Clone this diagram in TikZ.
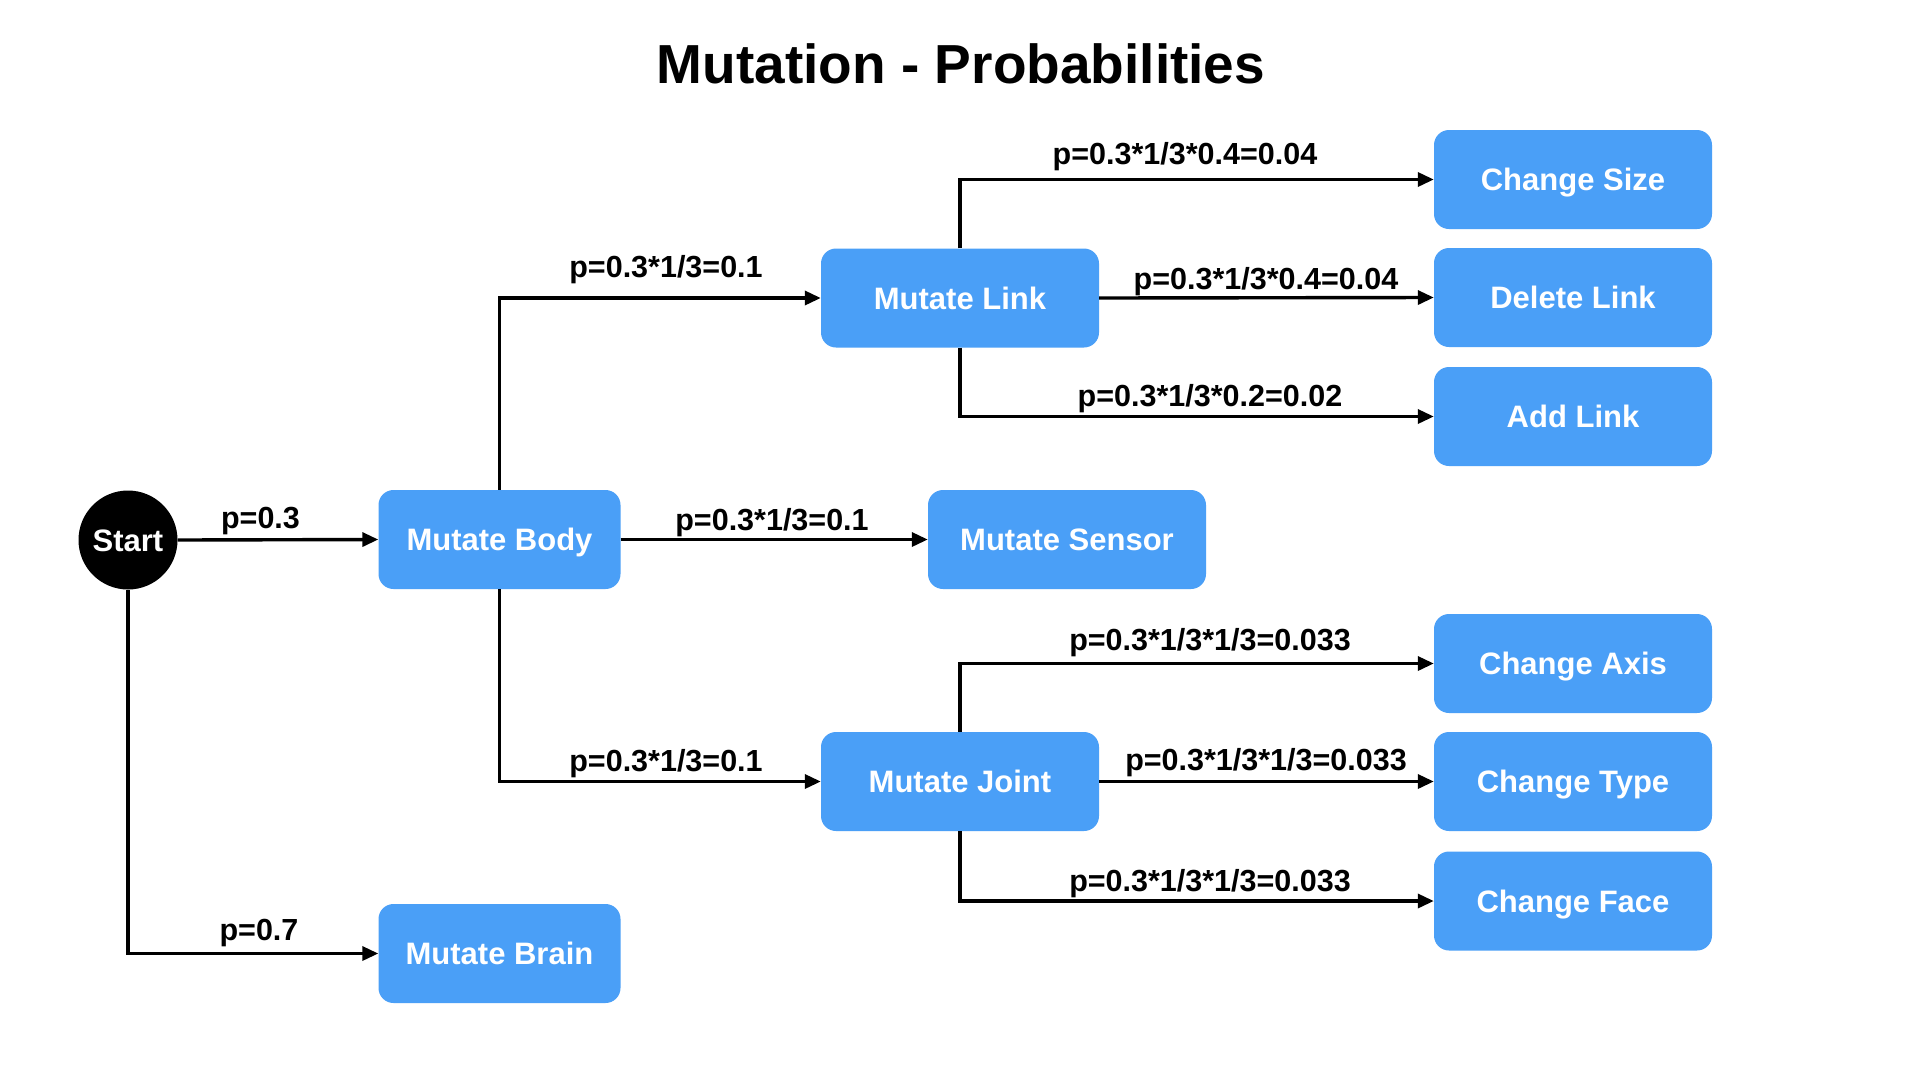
\documentclass[tikz,border=0pt]{standalone}
\usepackage{fontspec}
\setmainfont{Liberation Sans}
\usetikzlibrary{arrows.meta}
\definecolor{boxblue}{HTML}{4A9FF7}
\begin{document}
\begin{tikzpicture}[x=1pt,y=-1pt,
  box/.style={rectangle, fill=boxblue, rounded corners=15pt, minimum width=278pt, minimum height=99pt,
    inner sep=0pt, text=white, font=\fontsize{31}{31}\selectfont\bfseries, text height=22.3pt, text depth=0pt},
  smallbox/.style={box, minimum width=242pt},
  startnode/.style={circle, fill=black, minimum size=99pt, inner sep=0pt, text=white,
    font=\fontsize{31}{31}\selectfont\bfseries, text height=22.3pt, text depth=0pt},
  lbl/.style={anchor=base, font=\fontsize{30.5}{30.5}\selectfont\bfseries, inner sep=0pt},
  conn/.style={line width=3.4pt, -{Triangle[length=16pt,width=14pt]}}
]
\useasboundingbox (0,0) rectangle (1920,1080);
\fill[white] (0,0) rectangle (1920,1080);

\node[anchor=base, font=\fontsize{55}{55}\selectfont\bfseries, inner sep=0pt] (title) at (961,83) {Mutation - Probabilities};

\node[startnode] (start) at (128,540) {Start};
\node[smallbox] (body) at (499.5,539.5) {Mutate Body};
\node[smallbox] (brain) at (499.5,953.5) {Mutate Brain};
\node[box] (sensor) at (1067,539.5) {Mutate Sensor};
\node[box] (link) at (960,298) {Mutate Link};
\node[box] (joint) at (960,781.5) {Mutate Joint};
\node[box] (size) at (1573,179.5) {Change Size};
\node[box] (delete) at (1573,297.5) {Delete Link};
\node[box] (add) at (1573,416.5) {Add Link};
\node[box] (axis) at (1573,663.5) {Change Axis};
\node[box] (type) at (1573,781.5) {Change Type};
\node[box] (face) at (1573,901) {Change Face};

\draw[conn] (start.east) -- (body.west);
\draw[conn] (start.south) |- (brain.west);
\draw[conn] (body.north) |- (link.west);
\draw[conn] (body.east) -- (sensor.west);
\draw[conn] (body.south) |- (joint.west);
\draw[conn] (link.north) |- (size.west);
\draw[conn] (link.east) -- (delete.west);
\draw[conn] (link.south) |- (add.west);
\draw[conn] (joint.north) |- (axis.west);
\draw[conn] (joint.east) -- (type.west);
\draw[conn] (joint.south) |- (face.west);

\node[lbl] (l1) at (260.5,528) {p=0.3};
\node[lbl] (l2) at (259,940) {p=0.7};
\node[lbl] (l3) at (666,277) {p=0.3*1/3=0.1};
\node[lbl] (l4) at (772,530) {p=0.3*1/3=0.1};
\node[lbl] (l5) at (666,771) {p=0.3*1/3=0.1};
\node[lbl] (l6) at (1185,164) {p=0.3*1/3*0.4=0.04};
\node[lbl] (l7) at (1266,289) {p=0.3*1/3*0.4=0.04};
\node[lbl] (l8) at (1210,406) {p=0.3*1/3*0.2=0.02};
\node[lbl] (l9) at (1210,650) {p=0.3*1/3*1/3=0.033};
\node[lbl] (l10) at (1266,770) {p=0.3*1/3*1/3=0.033};
\node[lbl] (l11) at (1210,891) {p=0.3*1/3*1/3=0.033};
\end{tikzpicture}
\end{document}
